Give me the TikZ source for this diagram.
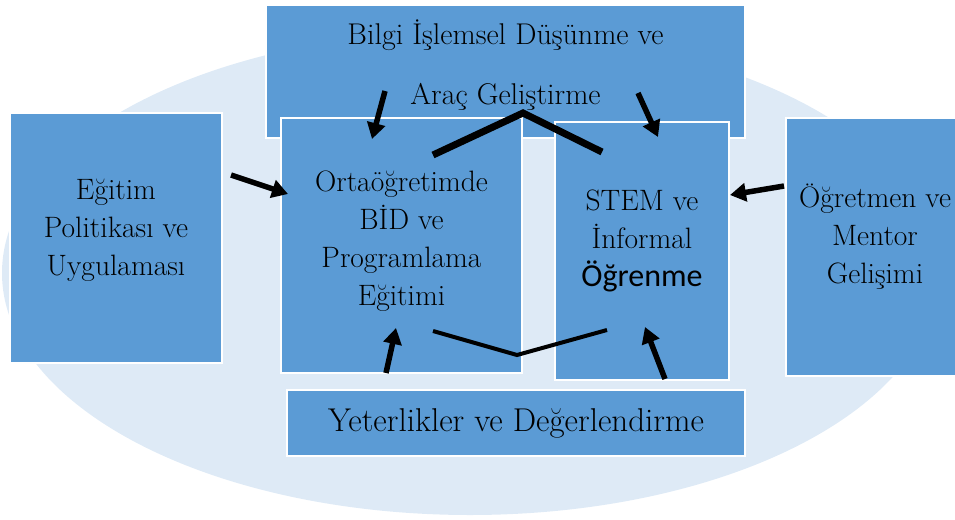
\documentclass[tikz,border=0pt]{standalone}
\usepackage{fontspec}
\newfontfamily\calibri{Carlito}
\usetikzlibrary{positioning,arrows.meta}

\definecolor{boxblue}{RGB}{91,155,213}
\definecolor{ovalblue}{RGB}{222,234,246}

\tikzset{
  box/.style={draw=white, line width=2pt, fill=boxblue, inner sep=0pt,
    align=center, font=\fontsize{29.5}{38}\selectfont},
  push/.style={line width=5.5pt, -{Triangle[length=16pt,width=18pt]}},
  link/.style={line width=#1},
}

\begin{document}
\begin{tikzpicture}[x=1pt,y=-1pt]
\useasboundingbox (0,0) rectangle (955,519);

% background oval
\fill[ovalblue] (470,273) ellipse [x radius=468, y radius=242];

% boxes
\node[box, minimum width=479, minimum height=133, text depth=19pt,
  font=\fontsize{30}{60}\selectfont] (bid) at (505.5,71.5)
  {Bilgi İşlemsel Düşünme ve\\Araç Geliştirme};
\node[box, minimum width=212, minimum height=250, text depth=22pt] (politika) at (116,238)
  {Eğitim\\Politikası ve\\Uygulaması};
\node[box, minimum width=179, minimum height=258, text depth=27pt] (mentor) at (875,247)
  {Öğretmen ve\\Mentor\\Gelişimi};
\node[box, minimum width=241, minimum height=255, text depth=14pt] (orta) at (401.5,245.5)
  {Ortaöğretimde\\BİD ve\\Programlama\\Eğitimi};
\node[box, minimum width=174, minimum height=258, text depth=26pt] (stem) at (642,251)
  {STEM ve\\İnformal\\{\calibri\fontsize{32}{38}\selectfont Öğrenme}};
\node[box, minimum width=458, minimum height=66,
  font=\fontsize{33}{36}\selectfont] (yeter) at (516,423)
  {Yeterlikler ve Değerlendirme};

% arrow ends
\coordinate (bidA) at (385,91);
\coordinate (ortaA) at (372,139);
\coordinate (bidB) at (638,93);
\coordinate (stemA) at (658,137);
\coordinate (polA) at (231,175);
\coordinate (ortaB) at (288,194);
\coordinate (menA) at (784,186);
\coordinate (stemB) at (730,195);
\coordinate (yetA) at (386,373);
\coordinate (ortaC) at (396,328);
\coordinate (yetB) at (665,379);
\coordinate (stemC) at (645,327);

% link lines
\coordinate (topL) at (433,155);
\coordinate (topM) at (523,113);
\coordinate (topR) at (602,152);
\coordinate (botL) at (433,331);
\coordinate (botM) at (517,355);
\coordinate (botR) at (607,330);

\draw[link=7pt] (topL) -- (topM) -- (topR);
\draw[link=4pt] (botL) -- (botM) -- (botR);

\draw[push] (bidA) -- (ortaA);
\draw[push] (bidB) -- (stemA);
\draw[push] (polA) -- (ortaB);
\draw[push] (menA) -- (stemB);
\draw[push] (yetA) -- (ortaC);
\draw[push] (yetB) -- (stemC);

\end{tikzpicture}
\end{document}
